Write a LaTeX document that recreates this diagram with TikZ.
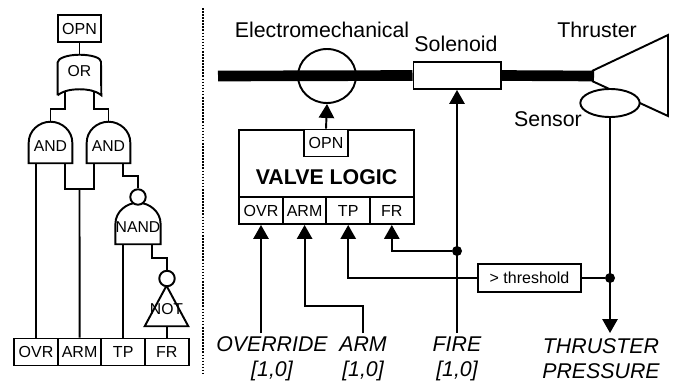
\documentclass[tikz,border=0pt]{standalone}
\usepackage{amssymb}
\usepackage{amsmath}
\usepackage{xcolor}
\usepackage{fontspec}
\setmainfont{Liberation Sans}
\usetikzlibrary{arrows.meta,shapes.geometric}

\tikzset{
   wire/.style={line width=1.45pt},
   feed/.style={wire,-{Triangle[width=11.5pt,length=10.5pt]}},
   pipe/.style={line width=8pt},
   cell/.style={draw=black,wire,fill=white,inner sep=0pt,minimum width=32.7pt,minimum height=20.25pt,font=\fontsize{12}{13}\selectfont},
   gatebox/.style={inner sep=0pt,minimum width=32.3pt,minimum height=30.75pt,font=\fontsize{11.8}{13}\selectfont,text height=13.4pt,text depth=0pt},
   bubble/.style={draw=black,wire,circle,fill=white,inner sep=0pt,minimum size=11.6pt},
   joint/.style={fill=black,circle,inner sep=0pt,minimum size=7.5pt},
   biglabel/.style={font=\fontsize{16}{18.75}\selectfont,inner sep=0pt},
   signal/.style={biglabel,font=\fontsize{16}{18.75}\selectfont\itshape,align=center}
}

\newcommand{\andgate}[3]{
         \node[gatebox,name=#1] at (#2) {#3};
         \draw[wire] (#1.south west) -- (#1.west)
            .. controls +(0,-11.3) and +(-11.9,0) .. (#1.north)
            .. controls +(11.9,0) and +(0,-11.3) .. (#1.east)
            -- (#1.south east) -- cycle;
}

\begin{document}
\begin{tikzpicture}[x=0.75pt,y=-0.75pt,node distance=32.7pt]
         \useasboundingbox (0,0) rectangle (674,382);

         \node[cell,name=ovrl] at (36,352) {OVR};
         \node[cell,name=arml,right of = ovrl] {ARM};
         \node[cell,name=tpl,right of = arml] {TP};
         \node[cell,name=frl,right of = tpl] {FR};
         \node[cell,name=opnl] at (79.5,28.5) {OPN};

         \node[gatebox,minimum height=30pt,text height=8pt,text depth=6.1pt,name=orgate] at (79.5,75) {OR};
         \draw[wire] (orgate.south west) -- ++(0,-33)
            .. controls +(0,-4) and +(-12,0) .. (orgate.north)
            .. controls +(12,0) and +(0,-4) .. ++(21.5,7)
            -- (orgate.south east)
            .. controls +(-6,-5) and +(7,0) .. ++(-21.5,-6)
            .. controls +(-7,0) and +(6,-5) .. (orgate.south west);

         \andgate{andl}{50.5,142.5}{AND}
         \andgate{andr}{108.5,142.5}{AND}
         \andgate{nandg}{138,223.5}{NAND}

         \node[gatebox,minimum height=30pt,text height=12.5pt,text depth=0pt,name=notg] at (166.5,306) {NOT};
         \draw[wire] (notg.north) -- (notg.south east) -- (notg.south west) -- cycle;

         \node[bubble,name=bubnand] at (138,197) {};
         \node[bubble,name=bubnot] at (167,278.5) {};

         \coordinate (orleft) at (65,91);
         \coordinate (orright) at (94,91);
         \coordinate (andlb) at (65,163);
         \coordinate (andrb) at (94,163);
         \coordinate (andrc) at (123,163);
         \coordinate (nandb) at (152,244);
         \coordinate (armjoin) at (79.5,189);

         \draw[wire] (orleft) -- ++(0,18) -| (andl.north);
         \draw[wire] (orright) -- ++(0,18) -| (andr.north);
         \draw[wire] (andrc) -- ++(0,13) -| (bubnand.north);
         \draw[wire] (nandb) -- ++(0,14) -| (bubnot.north);
         \draw[wire] (andlb) |- (armjoin) -| (andrb);

         \path[wire]
            (opnl) edge (orgate.north)
            (ovrl.north) edge (ovrl.north |- andl.south)
            (arml.north) edge (armjoin)
            (tpl.north) edge (tpl.north |- nandg.south)
            (frl.north) edge (notg.south -| frl.north);

         \coordinate (septop) at (203,8);
         \coordinate (sepbot) at (203,373);
         \draw[line width=1.3pt,dash pattern=on 1.2pt off 1.1pt] (septop) -- (sepbot);

         \node[draw=black,wire,ellipse,inner sep=0pt,minimum width=43.5pt,minimum height=40.5pt,name=valve] at (327,76) {};
         \node[draw=black,wire,inner sep=0pt,minimum width=65.3pt,minimum height=20.25pt,name=solenoid] at (457,75.5) {};
         \coordinate (pipein) at (218,76);
         \coordinate (nozzle) at (594,76);
         \coordinate (nozzletop) at (592,71);
         \coordinate (nozzlebot) at (592,81);
         \coordinate (bellup) at (668,35);
         \coordinate (belldown) at (668,116);

         \draw[pipe] (pipein) -- (solenoid.west);
         \draw[pipe] (solenoid.east) -- (nozzle);
         \draw[wire] (nozzletop) -- (bellup) -- (belldown) -- (nozzlebot);
         \node[draw=black,wire,ellipse,fill=white,inner sep=0pt,minimum width=44.5pt,minimum height=21pt,name=sensor] at (610,103) {};

         \node[draw=black,wire,inner sep=0pt,minimum width=131.2pt,minimum height=70.5pt,font=\fontsize{16}{18}\selectfont\bfseries,name=logic] at (326.5,177) {VALVE LOGIC};
         \node[cell,name=opnv] at (326,143) {OPN};
         \node[cell,name=ovrv] at (261,210.5) {OVR};
         \node[cell,name=armv,right of = ovrv] {ARM};
         \node[cell,name=tpv,right of = armv] {TP};
         \node[cell,name=frv,right of = tpv] {FR};

         \node[draw=black,wire,inner sep=0pt,minimum width=77.2pt,minimum height=21pt,font=\fontsize{12}{14}\selectfont,name=thresh] at (529.5,278) {> threshold};
         \node[joint,name=dotfire] at (457,251) {};
         \node[joint,name=dotsensor] at (610,278) {};

         \coordinate (ovrsrc) at (261,333);
         \coordinate (armsrc) at (363,333);
         \coordinate (firesrc) at (457,333);
         \coordinate (presout) at (610,333);

         \path[feed]
            (opnv.north) edge (valve.south)
            (ovrsrc) edge (ovrv.south)
            (firesrc) edge (solenoid.south)
            (sensor.south) edge (presout);
         \draw[feed] (armsrc) -- ++(0,-27) -| (armv.south);
         \draw[feed] (thresh.west) -| (tpv.south);
         \draw[feed] (dotfire) -| (frv.south);
         \draw[wire] (thresh.east) -- (dotsensor);

         \node[biglabel,name=valvelabel] at (322,30) {Electromechanical};
         \node[biglabel,name=solenoidlabel] at (456,44) {Solenoid};
         \node[biglabel,name=thrusterlabel] at (597,30) {Thruster};
         \node[biglabel,name=sensorlabel] at (548,119) {Sensor};
         \node[signal,name=ovrlabel] at (272,359) {OVERRIDE\\{}[1,0]};
         \node[signal,name=armlabel] at (363,359) {ARM\\{}[1,0]};
         \node[signal,name=firelabel] at (457,359) {FIRE\\{}[1,0]};
         \node[signal,name=preslabel] at (601,359) {THRUSTER\\PRESSURE};
      \end{tikzpicture}
\end{document}
